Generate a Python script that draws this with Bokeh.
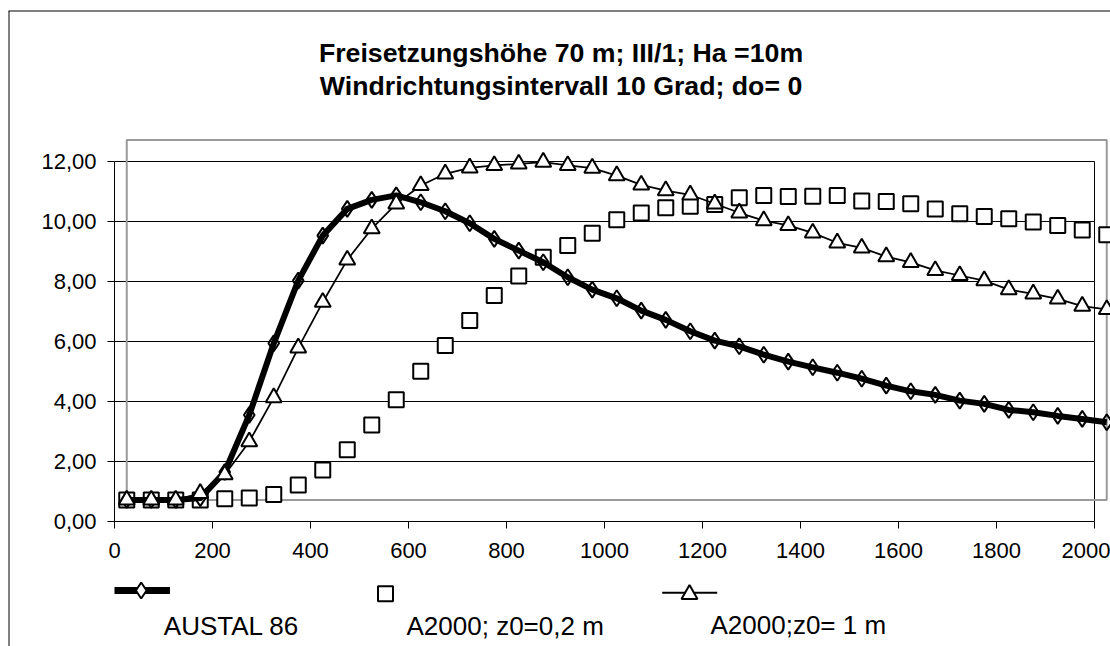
from bokeh.plotting import figure
from bokeh.models import Range1d, FixedTicker, Label
from bokeh.embed import file_html
from bokeh.resources import INLINE

# ---------------- data ----------------
DIST = [25, 75, 125, 175, 225, 275, 325, 375, 425, 475, 525, 575, 625, 675,
        725, 775, 825, 875, 925, 975, 1025, 1075, 1125, 1175, 1225, 1275,
        1325, 1375, 1425, 1475, 1525, 1575, 1625, 1675, 1725, 1775, 1825,
        1875, 1925, 1975, 2025]

AUSTAL86 = [0.72, 0.72, 0.72, 0.78, 1.65, 3.55, 5.94, 8.03, 9.53, 10.42,
            10.72, 10.87, 10.64, 10.34, 9.94, 9.42, 9.03, 8.64, 8.14, 7.73,
            7.44, 7.03, 6.72, 6.34, 6.03, 5.84, 5.56, 5.33, 5.14, 4.96, 4.76,
            4.53, 4.34, 4.22, 4.03, 3.92, 3.72, 3.64, 3.52, 3.42, 3.31]

A2000_Z02 = [0.72, 0.72, 0.72, 0.72, 0.76, 0.78, 0.90, 1.22, 1.72, 2.39,
             3.22, 4.06, 5.01, 5.87, 6.70, 7.53, 8.18, 8.81, 9.20, 9.61,
             10.06, 10.28, 10.46, 10.51, 10.57, 10.79, 10.87, 10.83, 10.84,
             10.87, 10.68, 10.67, 10.59, 10.42, 10.26, 10.17, 10.09, 9.98,
             9.87, 9.72, 9.56]

A2000_Z1 = [0.72, 0.72, 0.72, 0.94, 1.56, 2.66, 4.13, 5.79, 7.31, 8.72,
            9.76, 10.59, 11.20, 11.59, 11.79, 11.87, 11.92, 11.98, 11.87,
            11.78, 11.53, 11.22, 11.03, 10.89, 10.59, 10.29, 10.03, 9.87,
            9.62, 9.29, 9.12, 8.83, 8.64, 8.37, 8.20, 8.03, 7.73, 7.59, 7.42,
            7.18, 7.07]

X_TICKS = [0, 200, 400, 600, 800, 1000, 1200, 1400, 1600, 1800, 2000]
Y_TICKS = [0, 2, 4, 6, 8, 10, 12]
Y_TICK_LABELS = ["0,00", "2,00", "4,00", "6,00", "8,00", "10,00", "12,00"]

TITLE_LINES = ["Freisetzungshöhe 70 m; III/1; Ha =10m",
               "Windrichtungsintervall 10 Grad; do= 0"]
SERIES_NAMES = ["AUSTAL 86", "A2000; z0=0,2 m", "A2000;z0= 1 m"]

# ---------------- layout constants ----------------
W, H = 1110, 646
X_ORIGIN = 114.0     # canvas px of distance 0
Y_ORIGIN = 521.0     # canvas px (from top) of value 0
PX_PER_X = 0.49
PX_PER_Y = 30.0
FONT = "Liberation Sans"

# decorative grey frame (from the original sheet)
GREY_BOX = dict(left=25, right=2025, bottom=0.72, top=12.72)


def dx(px):
    return (px - X_ORIGIN) / PX_PER_X


def dy(py):
    return (Y_ORIGIN - py) / PX_PER_Y


p = figure(width=W, height=H,
           x_range=Range1d(dx(0), dx(W)), y_range=Range1d(dy(H), dy(0)),
           output_backend="svg", toolbar_location=None,
           min_border=0, min_border_left=0, min_border_right=0,
           min_border_top=0, min_border_bottom=0,
           background_fill_color="white", border_fill_color="white")
p.outline_line_color = None
p.xgrid.visible = False
p.ygrid.visible = False

# ---------------- axes (fixed at 0) ----------------
xa = p.xaxis[0]
xa.fixed_location = 0
xa.bounds = (X_TICKS[0], X_TICKS[-1])
xa.ticker = FixedTicker(ticks=X_TICKS)
xa.minor_tick_line_color = None
xa.major_tick_in = 0
xa.major_tick_out = 7
xa.axis_line_color = "black"
xa.major_tick_line_color = "black"
xa.major_label_text_font = FONT
xa.major_label_text_font_size = "22px"
xa.major_label_text_color = "black"
xa.major_label_standoff = 14

ya = p.yaxis[0]
ya.fixed_location = 0
ya.bounds = (Y_TICKS[0], Y_TICKS[-1])
ya.ticker = FixedTicker(ticks=Y_TICKS)
ya.major_label_overrides = {t: s for t, s in zip(Y_TICKS, Y_TICK_LABELS)}
ya.minor_tick_line_color = None
ya.major_tick_in = 0
ya.major_tick_out = 7
ya.axis_line_color = "black"
ya.major_tick_line_color = "black"
ya.major_label_text_font = FONT
ya.major_label_text_font_size = "22px"
ya.major_label_text_color = "black"
ya.major_label_standoff = 11

# ---------------- chart border, grid, plot-area box ----------------
p.segment(x0=[dx(8), dx(8.5)], y0=[dy(10.5), dy(10.5)],
          x1=[dx(W), dx(8.5)], y1=[dy(10.5), dy(H)],
          line_color="black", line_width=1)

p.segment(x0=[X_TICKS[0]] * (len(Y_TICKS) - 1), y0=Y_TICKS[1:],
          x1=[X_TICKS[-1]] * (len(Y_TICKS) - 1), y1=Y_TICKS[1:],
          line_color="black", line_width=1)
p.segment(x0=[X_TICKS[-1]], y0=[Y_TICKS[0]], x1=[X_TICKS[-1]], y1=[Y_TICKS[-1]],
          line_color="black", line_width=1)

p.quad(left=[GREY_BOX["left"]], right=[GREY_BOX["right"]],
       bottom=[GREY_BOX["bottom"]], top=[GREY_BOX["top"]],
       fill_color=None, line_color="#9a9a9a", line_width=2)

# ---------------- series ----------------
p.scatter(DIST, A2000_Z02, marker="square", size=15, fill_color="white",
          line_color="black", line_width=2)

p.line(DIST, AUSTAL86, line_color="black", line_width=6, line_join="round")
p.scatter(DIST, AUSTAL86, marker="diamond", size=16, fill_color=None,
          line_color="black", line_width=2)

p.line(DIST, A2000_Z1, line_color="black", line_width=1.75)
p.scatter(DIST, A2000_Z1, marker="triangle", size=16, fill_color="white",
          line_color="black", line_width=2)

# ---------------- legend ----------------
p.line([dx(114), dx(169.5)], [dy(590), dy(590)], line_color="black", line_width=7)
p.scatter([dx(140.7)], [dy(590)], marker="diamond", size=16, fill_color="white",
          line_color="black", line_width=2)
p.scatter([dx(385)], [dy(593.3)], marker="square", size=15, fill_color="white",
          line_color="black", line_width=2)
p.line([dx(661.7), dx(716.7)], [dy(592.3), dy(592.3)], line_color="black", line_width=2)
p.scatter([dx(689)], [dy(593.8)], marker="triangle", size=16, fill_color="white",
          line_color="black", line_width=2)

for name, lx, ly in zip(SERIES_NAMES, [163.3, 406.0, 710.0], [625.0, 625.0, 624.0]):
    p.add_layout(Label(x=dx(lx), y=dy(ly), text=name, text_font=FONT,
                       text_font_size="26px", text_color="black",
                       text_align="left", text_baseline="alphabetic"))

# ---------------- title ----------------
for line, ly in zip(TITLE_LINES, [52.5, 85.0]):
    p.add_layout(Label(x=dx(560.5), y=dy(ly), text=line, text_font=FONT,
                       text_font_size="26.7px", text_font_style="bold",
                       text_color="black", text_align="center",
                       text_baseline="alphabetic"))

open("out.html", "w").write(file_html(p, INLINE))
